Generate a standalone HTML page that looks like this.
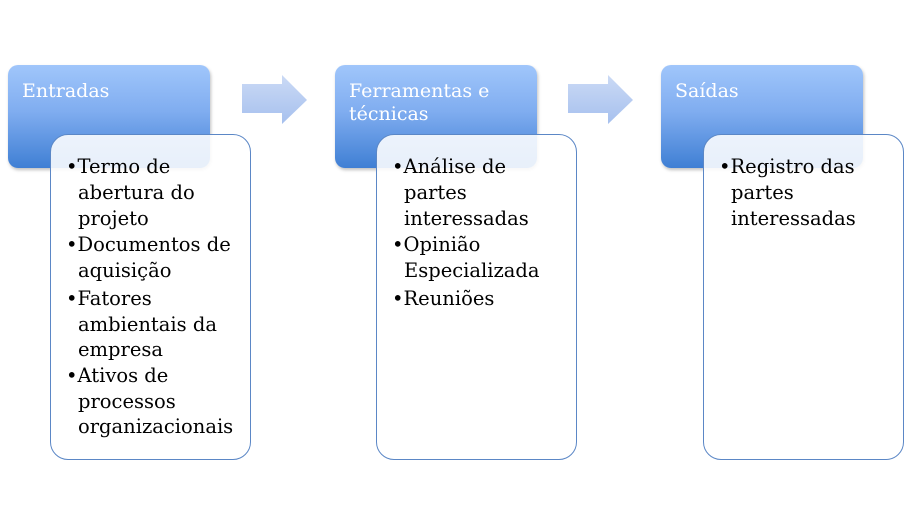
<!DOCTYPE html>
<html><head><meta charset="utf-8"><style>
body{margin:0;width:908px;height:525px;background:#fff;position:relative;overflow:hidden;font-family:"DejaVu Serif","Liberation Serif",serif}
.hd{position:absolute;width:202px;height:103px;top:65px;border-radius:10px;background:linear-gradient(#a0c6fb,#80adf0 45%,#3f7fd4);box-shadow:1px 2px 3px rgba(0,0,0,.25)}
.hd span{position:absolute;left:14px;top:15px;color:#fff;font-size:19px;line-height:23px}
.bx{position:absolute;top:134px;width:201px;height:326px;border:1.5px solid #5b87c6;border-radius:18px;background:rgba(255,255,255,.88);box-sizing:border-box}
.l{position:absolute;font-size:19.5px;line-height:26px;color:#000;white-space:nowrap}
.ar{position:absolute;top:75px}
</style></head><body>
<div class="hd" style="left:8px"><span>Entradas</span></div>
<div class="hd" style="left:335px"><span>Ferramentas e<br>técnicas</span></div>
<div class="hd" style="left:661px"><span>Saídas</span></div>
<svg class="ar" style="left:241px" width="68" height="52"><defs><linearGradient id="g" x1="0" x2="0" y1="0" y2="1"><stop offset="0" stop-color="#cbdaf5"/><stop offset="1" stop-color="#a6c0ee"/></linearGradient></defs><path d="M1 9H41V0L66 25L41 49V38H1Z" fill="url(#g)"/></svg>
<svg class="ar" style="left:567px" width="68" height="52"><path d="M1 9H41V0L66 25L41 49V38H1Z" fill="url(#g)"/></svg>
<div class="bx" style="left:50px"></div>
<div class="bx" style="left:376px"></div>
<div class="bx" style="left:703px"></div>
<div class="l" style="left:66px;top:154px">•Termo de</div>
<div class="l" style="left:78px;top:180px">abertura do</div>
<div class="l" style="left:78px;top:206px">projeto</div>
<div class="l" style="left:66px;top:232px">•Documentos de</div>
<div class="l" style="left:78px;top:258px">aquisição</div>
<div class="l" style="left:66px;top:286px">•Fatores</div>
<div class="l" style="left:78px;top:312px">ambientais da</div>
<div class="l" style="left:78px;top:337px">empresa</div>
<div class="l" style="left:66px;top:363px">•Ativos de</div>
<div class="l" style="left:78px;top:389px">processos</div>
<div class="l" style="left:78px;top:414px">organizacionais</div>
<div class="l" style="left:392px;top:154px">•Análise de</div>
<div class="l" style="left:404px;top:180px">partes</div>
<div class="l" style="left:404px;top:206px">interessadas</div>
<div class="l" style="left:392px;top:232px">•Opinião</div>
<div class="l" style="left:404px;top:258px">Especializada</div>
<div class="l" style="left:392px;top:286px">•Reuniões</div>
<div class="l" style="left:719px;top:154px">•Registro das</div>
<div class="l" style="left:731px;top:180px">partes</div>
<div class="l" style="left:731px;top:206px">interessadas</div>
</body></html>
